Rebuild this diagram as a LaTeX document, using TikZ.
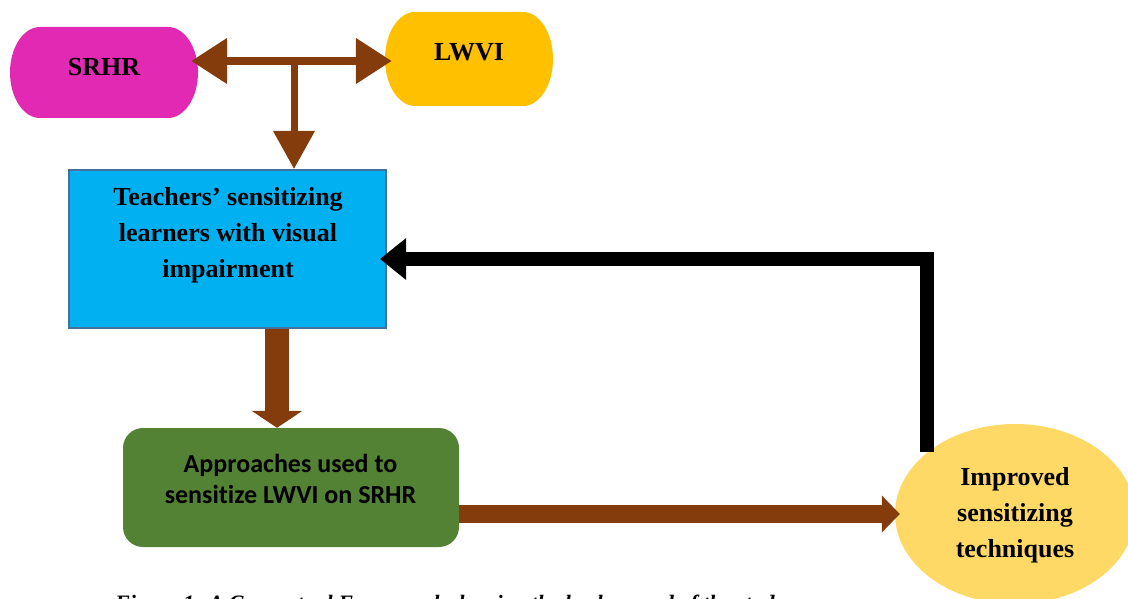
\documentclass[tikz,border=0pt]{standalone}
\usepackage{fontspec}
\setmainfont{Liberation Serif}
\newfontfamily\calibrifont[Ligatures=NoCommon]{Carlito}
\usetikzlibrary{arrows.meta,shapes.geometric,calc}
\definecolor{srhrc}{HTML}{E229B3}
\definecolor{lwvic}{HTML}{FFC000}
\definecolor{bluec}{HTML}{00B0F0}
\definecolor{bluebd}{HTML}{41719C}
\definecolor{greenc}{HTML}{548235}
\definecolor{ellc}{HTML}{FFD966}
\definecolor{brownc}{HTML}{843C0C}
\begin{document}
\begin{tikzpicture}[x=1pt,y=1pt,
  serifb/.style={font=\fontsize{26}{36}\selectfont\bfseries, align=center, inner sep=0pt},
  calb/.style={font=\calibrifont\bfseries\fontsize{26}{31}\selectfont, align=center, inner sep=0pt},
  holder/.style={inner sep=0pt, font=\fontsize{26}{30}\selectfont\bfseries},
  brownarrow/.style={draw=brownc}
]
\useasboundingbox (0,0) rectangle (1128,598);
\clip (0,0) rectangle (1128,598);

% SRHR terminator shape
\fill[srhrc] (40,571) -- (168,571) arc[start angle=90,end angle=-90,x radius=30,y radius=45.5]
  -- (40,480) arc[start angle=270,end angle=90,x radius=30,y radius=45.5] -- cycle;
\node[holder, minimum width=188pt, minimum height=91pt, text height=18pt, text depth=11pt] (srhr) at (104,525.5) {SRHR};

% LWVI terminator shape
\fill[lwvic] (415,586) -- (523,586) arc[start angle=90,end angle=-90,x radius=30,y radius=47]
  -- (415,492) arc[start angle=270,end angle=90,x radius=30,y radius=47] -- cycle;
\node[holder, minimum width=168pt, minimum height=94pt, text height=18pt, text depth=14pt] (lwvi) at (469,539) {LWVI};

% Blue box
\node[draw=bluebd, fill=bluec, line width=2pt, minimum width=317pt, minimum height=158pt, inner sep=0pt] (blue) at (227.5,349) {};
\node[serifb, anchor=north] (bluetext) at (228,411) {Teachers’ sensitizing\\learners with visual\\impairment};

% Green box
\node[fill=greenc, rounded corners=20pt, minimum width=336pt, minimum height=119pt, inner sep=0pt] (green) at (291,110.5) {};
\node[calb, anchor=north] (greentext) at (290.5,144) {Approaches used to\\sensitize LWVI on SRHR};

% Ellipse
\node[ellipse, fill=ellc, minimum width=240pt, minimum height=180pt, inner sep=0pt] (ell) at (1015,84) {};
\node[serifb, anchor=north] (elltext) at (1015,130.6) {Improved\\sensitizing\\techniques};

% Connectors
\coordinate (j) at (294,537);
\draw[brownarrow, line width=7pt, -{Triangle[width=40pt,length=38pt]}] (j) -- (j |- blue.north);
\draw[brownarrow, line width=8pt, {Triangle[width=44pt,length=36pt]}-{Triangle[width=44pt,length=36pt]},
  shorten <=-7pt, shorten >=-7pt] (j -| srhr.east) -- (j -| lwvi.west);
\draw[brownarrow, line width=24pt, -{Triangle[width=50pt,length=17pt]}]
  ([xshift=49.5pt]blue.south) -- ([xshift=49.5pt]blue.south |- green.north);
\draw[brownarrow, line width=18pt, -{Triangle[width=36pt,length=18pt]}, shorten >=-5pt]
  (green.east |- ell.west) -- (ell.west);
\coordinate (bk) at (927,339);
\draw[line width=14pt, line join=miter, -{Triangle[width=40pt,length=26pt]}, shorten >=-7pt]
  (bk |- ell.145) -- (bk) -- (bk -| blue.east);

% Caption (cut off at the bottom edge, as in the reference)
\node[anchor=north west, inner sep=0pt, font=\fontsize{22}{26}\selectfont\bfseries\itshape] (cap) at (115,3)
  {Figure 1: A Conceptual Framework showing the background of the study};
\end{tikzpicture}
\end{document}
